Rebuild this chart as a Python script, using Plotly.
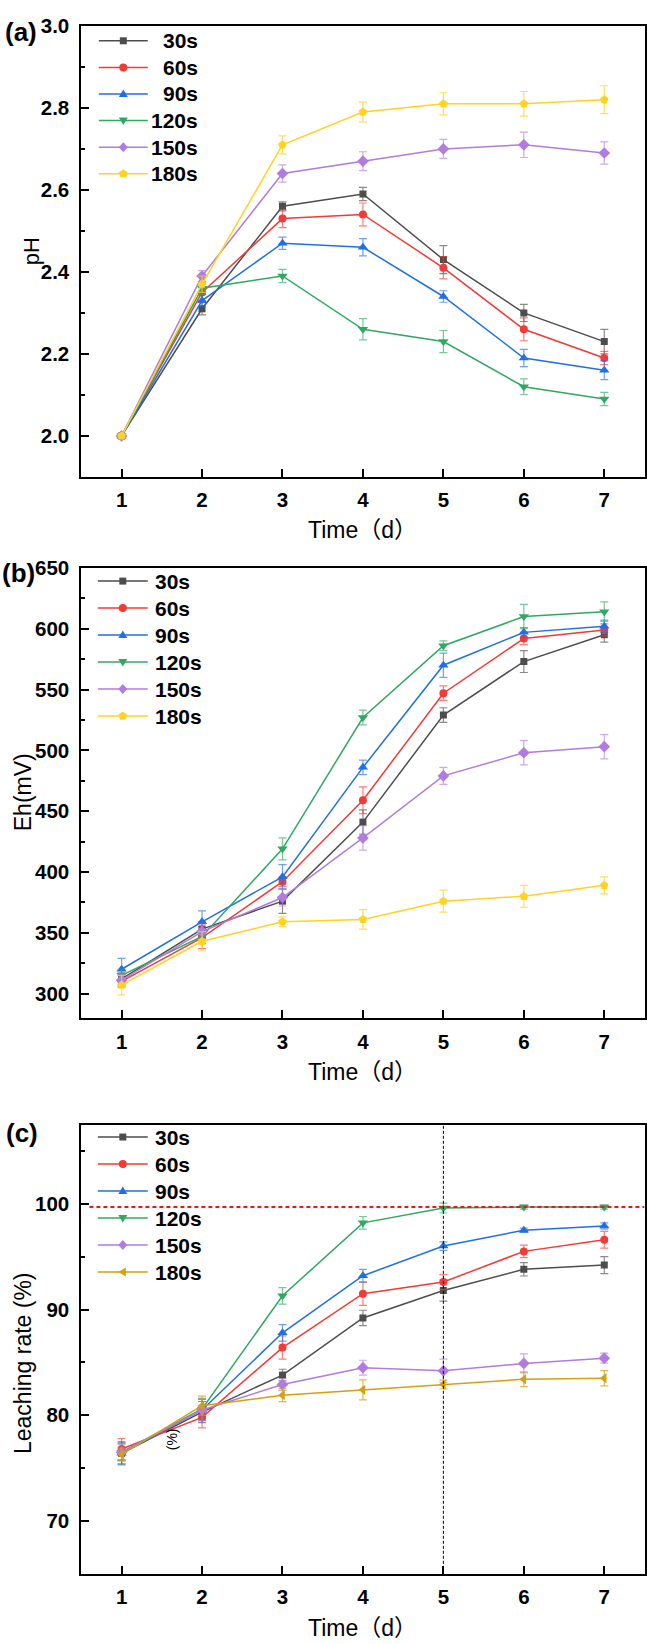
import plotly.graph_objects as go

W, H = 647, 1644

days = [1, 2, 3, 4, 5, 6, 7]
series_names = ["30s", "60s", "90s", "120s", "150s", "180s"]

# (a) pH
ph_30 = [2.00, 2.31, 2.56, 2.59, 2.43, 2.30, 2.23]
ph_60 = [2.00, 2.35, 2.53, 2.54, 2.41, 2.26, 2.19]
ph_90 = [2.00, 2.33, 2.47, 2.46, 2.34, 2.19, 2.16]
ph_120 = [2.00, 2.36, 2.39, 2.26, 2.23, 2.12, 2.09]
ph_150 = [2.00, 2.39, 2.64, 2.67, 2.70, 2.71, 2.69]
ph_180 = [2.00, 2.37, 2.71, 2.79, 2.81, 2.81, 2.82]
ph_30_err = [0.005, 0.015, 0.011, 0.016, 0.034, 0.021, 0.030]
ph_60_err = [0.005, 0.020, 0.022, 0.028, 0.027, 0.028, 0.016]
ph_90_err = [0.005, 0.015, 0.015, 0.021, 0.014, 0.021, 0.023]
ph_120_err = [0.005, 0.015, 0.016, 0.026, 0.027, 0.019, 0.016]
ph_150_err = [0.005, 0.013, 0.021, 0.023, 0.023, 0.031, 0.027]
ph_180_err = [0.005, 0.020, 0.022, 0.024, 0.027, 0.030, 0.034]

# (b) Eh (mV)
eh_30 = [312, 353, 376, 441, 529, 573, 595]
eh_60 = [310, 346, 392, 459, 547, 592, 599]
eh_90 = [320, 359, 396, 486, 570, 597, 602]
eh_120 = [315, 347, 419, 527, 586, 610, 614]
eh_150 = [311, 351, 379, 428, 479, 498, 503]
eh_180 = [307, 343, 359, 361, 376, 380, 389]
eh_30_err = [5, 6, 10, 10, 6, 9, 6]
eh_60_err = [5, 9, 4, 11, 6, 5, 5]
eh_90_err = [9, 9, 10, 6, 10, 4, 5]
eh_120_err = [5, 6, 9, 6, 4, 10, 8]
eh_150_err = [5, 6, 7, 10, 7, 10, 10]
eh_180_err = [8, 8, 4, 8, 9, 9, 7]

# (c) Leaching rate (%)
lr_30 = [76.4, 80.3, 83.8, 89.2, 91.8, 93.8, 94.2]
lr_60 = [76.8, 79.8, 86.4, 91.5, 92.6, 95.5, 96.6]
lr_90 = [76.4, 80.5, 87.8, 93.2, 96.0, 97.5, 97.9]
lr_120 = [76.5, 80.6, 91.3, 98.2, 99.6, 99.7, 99.7]
lr_150 = [76.5, 80.5, 82.9, 84.5, 84.2, 84.9, 85.4]
lr_180 = [76.3, 80.9, 81.9, 82.4, 82.9, 83.4, 83.5]
lr_30_err = [1.0, 1.0, 0.55, 0.73, 1.0, 0.63, 0.8]
lr_60_err = [1.0, 1.0, 1.1, 1.1, 0.7, 0.6, 0.8]
lr_90_err = [1.1, 1.0, 0.78, 0.6, 0.4, 0.2, 0.3]
lr_120_err = [0.8, 1.0, 0.78, 0.6, 0.47, 0.2, 0.2]
lr_150_err = [0.8, 1.0, 0.55, 0.7, 1.1, 0.9, 0.47]
lr_180_err = [0.6, 0.9, 0.62, 0.94, 0.42, 0.7, 0.72]

threshold_rate = 99.7
marked_day = 5

colors = ["#4D4D4D", "#F23A36", "#1F6FE5", "#2FA862", "#B07CE0", "#FFD320"]
colors_c = ["#4D4D4D", "#F23A36", "#1F6FE5", "#2FA862", "#B07CE0", "#D4A010"]
err_alpha = ["rgba(77,77,77,0.65)", "rgba(242,58,54,0.65)", "rgba(31,111,229,0.65)",
             "rgba(47,168,98,0.65)", "rgba(176,124,224,0.65)", "rgba(255,211,32,0.75)"]
err_alpha_c = err_alpha[:5] + ["rgba(212,160,16,0.75)"]
symbols_ab = ["square", "circle", "triangle-up", "triangle-down", "diamond", "pentagon"]
symbols_c = ["square", "circle", "triangle-up", "triangle-down", "diamond", "triangle-left"]
msizes = [7, 8, 9, 9, 9, 9]

# pixel paths for the hand-drawn legend symbols (y up positive)
legend_paths = {
    "square": "M-3.5,-3.5L3.5,-3.5L3.5,3.5L-3.5,3.5Z",
    "triangle-up": "M0,4.5L4.5,-3L-4.5,-3Z",
    "triangle-down": "M0,-4.5L4.5,3L-4.5,3Z",
    "diamond": "M0,5L4.5,0L0,-5L-4.5,0Z",
    "pentagon": "M0,4.6L4.4,1.4L2.7,-3.7L-2.7,-3.7L-4.4,1.4Z",
    "triangle-left": "M-4.5,0L3,4.5L3,-4.5Z",
}

FONT = "Liberation Sans, Arial, sans-serif"


def px(x):
    return x / W


def py(y):
    return 1 - y / H


fig = go.Figure()

panels = [
    ("x", "y", [ph_30, ph_60, ph_90, ph_120, ph_150, ph_180],
     [ph_30_err, ph_60_err, ph_90_err, ph_120_err, ph_150_err, ph_180_err],
     colors, err_alpha, symbols_ab),
    ("x2", "y2", [eh_30, eh_60, eh_90, eh_120, eh_150, eh_180],
     [eh_30_err, eh_60_err, eh_90_err, eh_120_err, eh_150_err, eh_180_err],
     colors, err_alpha, symbols_ab),
    ("x3", "y3", [lr_30, lr_60, lr_90, lr_120, lr_150, lr_180],
     [lr_30_err, lr_60_err, lr_90_err, lr_120_err, lr_150_err, lr_180_err],
     colors_c, err_alpha_c, symbols_c),
]

for xa, ya, vals, errs, cols, ecols, syms in panels:
    for i, name in enumerate(series_names):
        fig.add_trace(go.Scatter(
            x=days, y=vals[i], name=name, mode="lines+markers",
            xaxis=xa, yaxis=ya, showlegend=False,
            line=dict(color=cols[i], width=1.5),
            marker=dict(symbol=syms[i], size=msizes[i], color=cols[i]),
            error_y=dict(type="data", array=errs[i], color=ecols[i], thickness=1.2, width=4),
        ))

xdom = [px(81.5), px(645.5)]
doms = [(14, 468.3), (560, 1013.3), (1120.7, 1573.3)]
yranges = [[1.9, 3.0], [280, 650], [65, 107.5]]
ydticks = [0.2, 50, 10]
ytick0 = [2.0, 300, 70]
yminor = [0.1, 25, 5]
yfmt = [".1f", "d", "d"]

tickfont = dict(family=FONT, size=20.5, color="black", weight="bold")
axcommon = dict(showline=True, linecolor="black", linewidth=2, mirror=True,
                ticks="inside", tickcolor="black", tickwidth=2, ticklen=8,
                showgrid=False, zeroline=False, tickfont=tickfont)

layout = dict(width=W, height=H, margin=dict(l=0, r=0, t=0, b=0),
              paper_bgcolor="white", plot_bgcolor="white", showlegend=False)

for k in range(3):
    sx = "" if k == 0 else str(k + 1)
    top, bot = doms[k]
    layout["xaxis" + sx] = dict(domain=xdom, range=[0.5, 7.5], anchor="y" + sx,
                                tickmode="array", tickvals=days,
                                ticktext=[str(d) for d in days],
                                ticklabelstandoff=4, **axcommon)
    layout["yaxis" + sx] = dict(domain=[py(bot), py(top)], range=yranges[k], anchor="x" + sx,
                                tick0=ytick0[k], dtick=ydticks[k], tickformat=yfmt[k],
                                minor=dict(ticks="inside", ticklen=4, tickwidth=2,
                                           tickcolor="black", dtick=yminor[k], tick0=ytick0[k]),
                                ticklabelstandoff=6, **axcommon)

fig.update_layout(**layout)

ann = []


def add_text(text, x, y, size, bold=False, angle=0, xanchor="center"):
    ann.append(dict(text=text, x=px(x), y=py(y), xref="paper", yref="paper",
                    xanchor=xanchor, yanchor="middle", showarrow=False, textangle=angle,
                    font=dict(family=FONT + ", Noto Sans CJK SC", size=size, color="black",
                              weight="bold" if bold else "normal")))


add_text("(a)", 21.5, 20, 26, bold=True)
add_text("(b)", 18.5, 565, 26, bold=True)
add_text("(c)", 22.5, 1129, 26, bold=True)
add_text("pH", 31, 241, 22, angle=-90)
add_text("Eh(mV)", 23, 786, 23, angle=-90)
add_text("Leaching rate (%)", 23, 1361, 23, angle=-90)
for yy in [522, 1068, 1628]:
    add_text("Time（d）", 363, yy, 23)
add_text("(%)", 172, 1438, 14, angle=-90)

# hand-drawn legends: (first row centre y, row step, line x0, line x1, text x, text anchor)
legend_specs = [
    (29.0, 26.8, 99, 148, 200, "right", colors, symbols_ab),
    (573.3, 27.2, 98, 148, 153, "left", colors, symbols_ab),
    (1133.3, 27.2, 98, 148, 153, "left", colors_c, symbols_c),
]
shapes = []
for y0, step, lx0, lx1, tx, tanchor, cols, syms in legend_specs:
    for i, name in enumerate(series_names):
        yy = y0 + i * step
        shapes.append(dict(type="line", xref="paper", yref="paper",
                           x0=px(lx0), x1=px(lx1), y0=py(yy), y1=py(yy),
                           line=dict(color=cols[i], width=1.5), layer="above"))
        mx = px((lx0 + lx1) / 2)
        if syms[i] == "circle":
            shapes.append(dict(type="circle", xref="paper", yref="paper",
                               xsizemode="pixel", ysizemode="pixel", xanchor=mx, yanchor=py(yy),
                               x0=-4, x1=4, y0=-4, y1=4, fillcolor=cols[i],
                               line=dict(width=0), layer="above"))
        else:
            shapes.append(dict(type="path", xref="paper", yref="paper",
                               xsizemode="pixel", ysizemode="pixel", xanchor=mx, yanchor=py(yy),
                               path=legend_paths[syms[i]], fillcolor=cols[i],
                               line=dict(width=0), layer="above"))
        add_text(name, tx, yy, 21, bold=True, xanchor=tanchor)

fig.add_shape(type="line", xref="x3", yref="y3 domain", x0=marked_day, x1=marked_day, y0=0, y1=1,
              line=dict(color="black", width=1, dash="3px,2px"))
fig.add_shape(type="line", xref="x3", yref="y3", x0=0.6, x1=7.5, y0=threshold_rate, y1=threshold_rate,
              line=dict(color="#FF1010", width=2, dash="4px,3px"))
for s in shapes:
    fig.add_shape(**s)

fig.update_layout(annotations=ann)

fig.write_html("out.html")
